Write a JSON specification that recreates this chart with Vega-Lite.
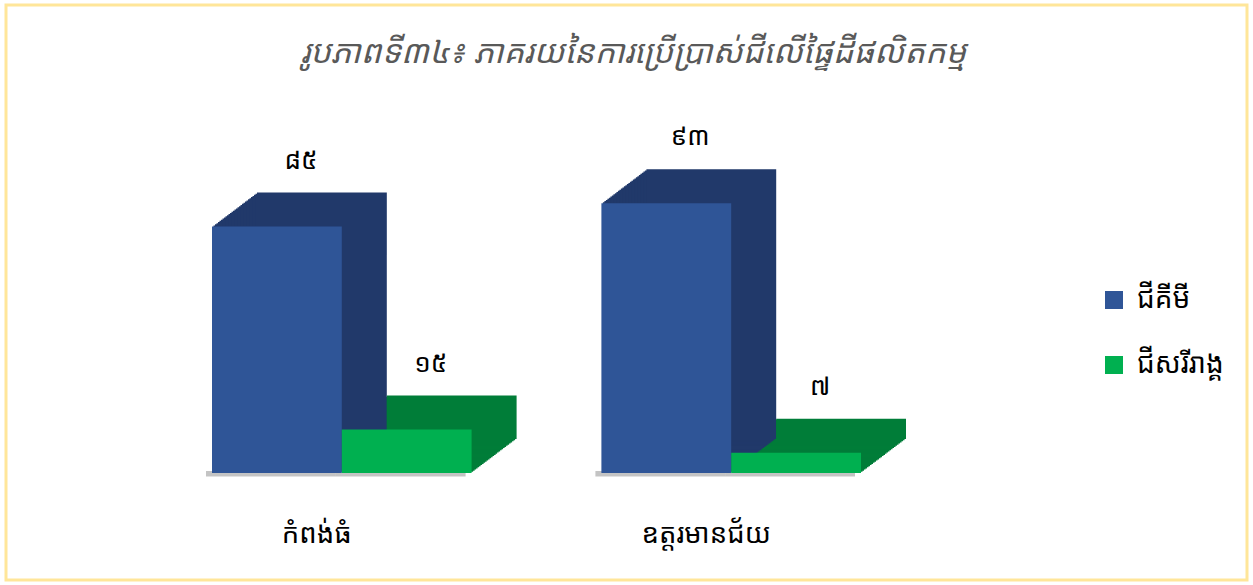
{
  "$schema": "https://vega.github.io/schema/vega-lite/v6.json",
  "width": 1241,
  "height": 575,
  "autosize": {"type": "none"},
  "padding": {"left": 6, "top": 5, "right": 6, "bottom": 5},
  "background": "white",
  "config": {
    "view": {"stroke": "#FFE699", "strokeWidth": 3},
    "font": "Noto Sans Khmer, Noto Serif Khmer, Khmer OS, DejaVu Sans"
  },
  "title": {
    "text": "រូបភាពទី៣៤៖ ភាគរយនៃការប្រើប្រាស់ជីលើផ្ទៃដីផលិតកម្ម",
    "fontSize": 32.5,
    "fontStyle": "italic",
    "fontWeight": "normal",
    "color": "#595959",
    "anchor": "middle",
    "dx": 7,
    "offset": -64
  },
  "data": {
    "values": [
      {"region": "កំពង់ធំ", "series": "ជីគីមី", "key": "k1", "value": 85, "label": "៨៥"},
      {"region": "កំពង់ធំ", "series": "ជីសរីរាង្គ", "key": "k2", "value": 15, "label": "១៥"},
      {"region": "ឧត្តរមានជ័យ", "series": "ជីគីមី", "key": "u1", "value": 93, "label": "៩៣"},
      {"region": "ឧត្តរមានជ័យ", "series": "ជីសរីរាង្គ", "key": "u2", "value": 7, "label": "៧"}
    ]
  },
  "encoding": {
    "x": {
      "field": "key",
      "type": "nominal",
      "sort": null,
      "scale": {"domain": ["k1", "k2", "gap", "u1", "u2"], "paddingInner": 0, "paddingOuter": 0, "range": [206, 855]},
      "axis": null
    },
    "y": {
      "field": "value",
      "type": "quantitative",
      "scale": {"domain": [-36.9, 161.4], "nice": false, "zero": false},
      "axis": null
    }
  },
  "layer": [
    {"mark": {"type": "bar", "color": "#555555", "opacity": 0.35, "xOffset": -6}, "encoding": {"y": {"datum": 0.7}, "y2": {"datum": -1.2}}},
    {"mark": {"type": "bar", "xOffset": 1.5, "yOffset": -1.13}, "encoding": {"y2": {"datum": 0.39}, "fill": {"condition": {"test": "datum.series === 'ជីគីមី'", "value": "#21396A"}, "value": "#007D38"}}},
    {"mark": {"type": "bar", "xOffset": 3, "yOffset": -2.27}, "encoding": {"y2": {"datum": 0.78}, "fill": {"condition": {"test": "datum.series === 'ជីគីមី'", "value": "#21396A"}, "value": "#007D38"}}},
    {"mark": {"type": "bar", "xOffset": 4.5, "yOffset": -3.4}, "encoding": {"y2": {"datum": 1.17}, "fill": {"condition": {"test": "datum.series === 'ជីគីមី'", "value": "#21396A"}, "value": "#007D38"}}},
    {"mark": {"type": "bar", "xOffset": 6, "yOffset": -4.53}, "encoding": {"y2": {"datum": 1.56}, "fill": {"condition": {"test": "datum.series === 'ជីគីមី'", "value": "#21396A"}, "value": "#007D38"}}},
    {"mark": {"type": "bar", "xOffset": 7.5, "yOffset": -5.67}, "encoding": {"y2": {"datum": 1.95}, "fill": {"condition": {"test": "datum.series === 'ជីគីមី'", "value": "#21396A"}, "value": "#007D38"}}},
    {"mark": {"type": "bar", "xOffset": 9, "yOffset": -6.8}, "encoding": {"y2": {"datum": 2.34}, "fill": {"condition": {"test": "datum.series === 'ជីគីមី'", "value": "#21396A"}, "value": "#007D38"}}},
    {"mark": {"type": "bar", "xOffset": 10.5, "yOffset": -7.93}, "encoding": {"y2": {"datum": 2.73}, "fill": {"condition": {"test": "datum.series === 'ជីគីមី'", "value": "#21396A"}, "value": "#007D38"}}},
    {"mark": {"type": "bar", "xOffset": 12, "yOffset": -9.07}, "encoding": {"y2": {"datum": 3.13}, "fill": {"condition": {"test": "datum.series === 'ជីគីមី'", "value": "#21396A"}, "value": "#007D38"}}},
    {"mark": {"type": "bar", "xOffset": 13.5, "yOffset": -10.2}, "encoding": {"y2": {"datum": 3.52}, "fill": {"condition": {"test": "datum.series === 'ជីគីមី'", "value": "#21396A"}, "value": "#007D38"}}},
    {"mark": {"type": "bar", "xOffset": 15, "yOffset": -11.33}, "encoding": {"y2": {"datum": 3.91}, "fill": {"condition": {"test": "datum.series === 'ជីគីមី'", "value": "#21396A"}, "value": "#007D38"}}},
    {"mark": {"type": "bar", "xOffset": 16.5, "yOffset": -12.47}, "encoding": {"y2": {"datum": 4.3}, "fill": {"condition": {"test": "datum.series === 'ជីគីមី'", "value": "#21396A"}, "value": "#007D38"}}},
    {"mark": {"type": "bar", "xOffset": 18, "yOffset": -13.6}, "encoding": {"y2": {"datum": 4.69}, "fill": {"condition": {"test": "datum.series === 'ជីគីមី'", "value": "#21396A"}, "value": "#007D38"}}},
    {"mark": {"type": "bar", "xOffset": 19.5, "yOffset": -14.73}, "encoding": {"y2": {"datum": 5.08}, "fill": {"condition": {"test": "datum.series === 'ជីគីមី'", "value": "#21396A"}, "value": "#007D38"}}},
    {"mark": {"type": "bar", "xOffset": 21, "yOffset": -15.87}, "encoding": {"y2": {"datum": 5.47}, "fill": {"condition": {"test": "datum.series === 'ជីគីមី'", "value": "#21396A"}, "value": "#007D38"}}},
    {"mark": {"type": "bar", "xOffset": 22.5, "yOffset": -17}, "encoding": {"y2": {"datum": 5.86}, "fill": {"condition": {"test": "datum.series === 'ជីគីមី'", "value": "#21396A"}, "value": "#007D38"}}},
    {"mark": {"type": "bar", "xOffset": 24, "yOffset": -18.13}, "encoding": {"y2": {"datum": 6.25}, "fill": {"condition": {"test": "datum.series === 'ជីគីមី'", "value": "#21396A"}, "value": "#007D38"}}},
    {"mark": {"type": "bar", "xOffset": 25.5, "yOffset": -19.27}, "encoding": {"y2": {"datum": 6.64}, "fill": {"condition": {"test": "datum.series === 'ជីគីមី'", "value": "#21396A"}, "value": "#007D38"}}},
    {"mark": {"type": "bar", "xOffset": 27, "yOffset": -20.4}, "encoding": {"y2": {"datum": 7.03}, "fill": {"condition": {"test": "datum.series === 'ជីគីមី'", "value": "#21396A"}, "value": "#007D38"}}},
    {"mark": {"type": "bar", "xOffset": 28.5, "yOffset": -21.53}, "encoding": {"y2": {"datum": 7.42}, "fill": {"condition": {"test": "datum.series === 'ជីគីមី'", "value": "#21396A"}, "value": "#007D38"}}},
    {"mark": {"type": "bar", "xOffset": 30, "yOffset": -22.67}, "encoding": {"y2": {"datum": 7.82}, "fill": {"condition": {"test": "datum.series === 'ជីគីមី'", "value": "#21396A"}, "value": "#007D38"}}},
    {"mark": {"type": "bar", "xOffset": 31.5, "yOffset": -23.8}, "encoding": {"y2": {"datum": 8.21}, "fill": {"condition": {"test": "datum.series === 'ជីគីមី'", "value": "#21396A"}, "value": "#007D38"}}},
    {"mark": {"type": "bar", "xOffset": 33, "yOffset": -24.93}, "encoding": {"y2": {"datum": 8.6}, "fill": {"condition": {"test": "datum.series === 'ជីគីមី'", "value": "#21396A"}, "value": "#007D38"}}},
    {"mark": {"type": "bar", "xOffset": 34.5, "yOffset": -26.07}, "encoding": {"y2": {"datum": 8.99}, "fill": {"condition": {"test": "datum.series === 'ជីគីមី'", "value": "#21396A"}, "value": "#007D38"}}},
    {"mark": {"type": "bar", "xOffset": 36, "yOffset": -27.2}, "encoding": {"y2": {"datum": 9.38}, "fill": {"condition": {"test": "datum.series === 'ជីគីមី'", "value": "#21396A"}, "value": "#007D38"}}},
    {"mark": {"type": "bar", "xOffset": 37.5, "yOffset": -28.33}, "encoding": {"y2": {"datum": 9.77}, "fill": {"condition": {"test": "datum.series === 'ជីគីមី'", "value": "#21396A"}, "value": "#007D38"}}},
    {"mark": {"type": "bar", "xOffset": 39, "yOffset": -29.47}, "encoding": {"y2": {"datum": 10.16}, "fill": {"condition": {"test": "datum.series === 'ជីគីមី'", "value": "#21396A"}, "value": "#007D38"}}},
    {"mark": {"type": "bar", "xOffset": 40.5, "yOffset": -30.6}, "encoding": {"y2": {"datum": 10.55}, "fill": {"condition": {"test": "datum.series === 'ជីគីមី'", "value": "#21396A"}, "value": "#007D38"}}},
    {"mark": {"type": "bar", "xOffset": 42, "yOffset": -31.73}, "encoding": {"y2": {"datum": 10.94}, "fill": {"condition": {"test": "datum.series === 'ជីគីមី'", "value": "#21396A"}, "value": "#007D38"}}},
    {"mark": {"type": "bar", "xOffset": 43.5, "yOffset": -32.87}, "encoding": {"y2": {"datum": 11.33}, "fill": {"condition": {"test": "datum.series === 'ជីគីមី'", "value": "#21396A"}, "value": "#007D38"}}},
    {"mark": {"type": "bar", "xOffset": 45, "yOffset": -34}, "encoding": {"y2": {"datum": 11.72}, "fill": {"condition": {"test": "datum.series === 'ជីគីមី'", "value": "#21396A"}, "value": "#007D38"}}},
    {
      "mark": {"type": "bar"},
      "encoding": {
        "y2": {"datum": 0},
        "color": {
          "field": "series",
          "type": "nominal",
          "sort": null,
          "scale": {"domain": ["ជីគីមី", "ជីសរីរាង្គ"], "range": ["#2F5597", "#00B050"]},
          "legend": {
            "title": null,
            "orient": "none",
            "legendX": 1094,
            "legendY": 281,
            "padding": 0,
            "symbolType": "square",
            "symbolSize": 324,
            "symbolStrokeWidth": 0,
            "labelFontSize": 28,
            "labelColor": "#000000",
            "labelOffset": 9,
            "rowPadding": 37,
            "labelLimit": 300
          }
        }
      }
    },
    {
      "mark": {"type": "text", "dx": 24, "dy": -66, "baseline": "middle", "fontSize": 26, "color": "#000000"},
      "encoding": {"text": {"field": "label"}}
    },
    {
      "transform": [{"filter": "datum.series === 'ជីគីមី'"}],
      "mark": {"type": "text", "dx": -25, "dy": 62, "baseline": "middle", "fontSize": 27.5, "color": "#000000"},
      "encoding": {
        "x": {"field": "key", "type": "nominal", "bandPosition": 1},
        "y": {"datum": 0, "type": "quantitative"},
        "text": {"field": "region"}
      }
    }
  ]
}
